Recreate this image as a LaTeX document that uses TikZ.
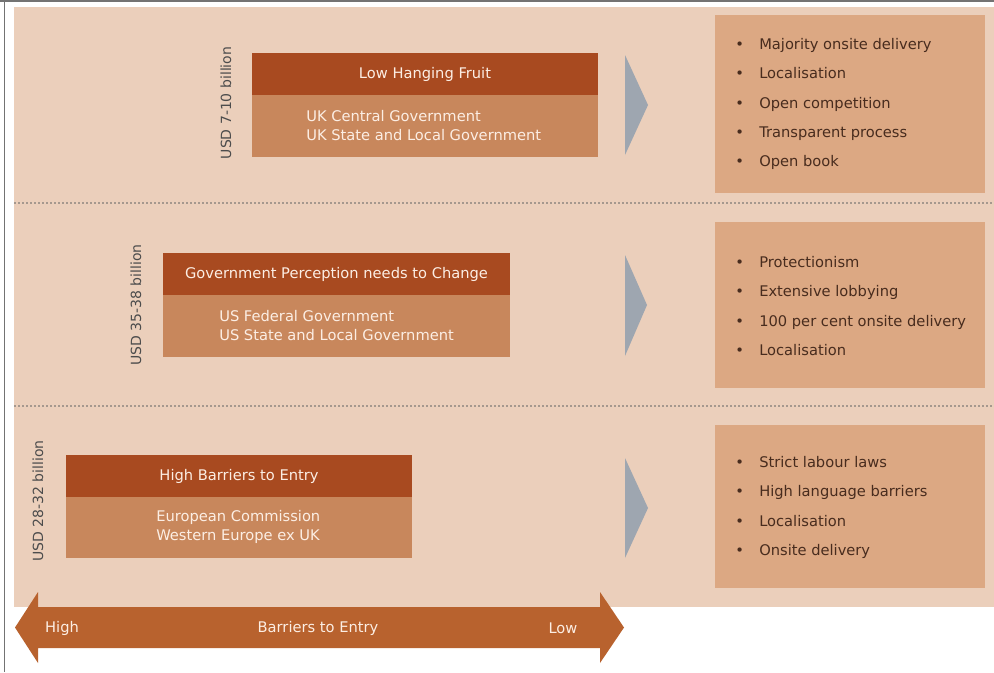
\documentclass[tikz,border=0pt]{standalone}
\usepackage{fontspec}
\setmainfont{DejaVu Sans}
\definecolor{bgpeach}{RGB}{235,207,187}
\definecolor{titlebrown}{RGB}{168,74,32}
\definecolor{bodybrown}{RGB}{200,135,92}
\definecolor{listbrown}{RGB}{220,168,131}
\definecolor{pointgray}{RGB}{158,166,176}
\definecolor{arrowbrown}{RGB}{184,98,46}
\definecolor{lighttext}{RGB}{252,238,228}
\definecolor{darktext}{RGB}{72,44,30}
\definecolor{dotgray}{RGB}{165,152,142}
\tikzset{
  boxtext/.style={inner sep=0.75pt, text=lighttext, font=\fontsize{11}{14.25}\selectfont},
  listtext/.style={inner sep=0pt, anchor=west, align=left, text=darktext, font=\fontsize{11}{22}\selectfont},
  usdtext/.style={inner sep=0.75pt, rotate=90, text=black!70, font=\fontsize{10.5}{12}\selectfont}
}
\newcommand{\bul}{\makebox[18pt][l]{\textbullet}}

\begin{document}
\begin{tikzpicture}[x=0.75pt,y=0.75pt,yscale=-1,xscale=1]
\useasboundingbox (0,0) rectangle (994,672);

%Frame
\draw [color=black!55, line width=1.5] (0,1) -- (994,1) ;
\draw [color=black!55, line width=1] (4.5,0) -- (4.5,672) ;
%Shape: Background
\fill [bgpeach] (14,7) rectangle (994,607) ;
%Dotted separators
\draw [color=dotgray, line width=1, dash pattern=on 1.5 off 1.5] (14,203) -- (994,203) ;
\draw [color=dotgray, line width=1, dash pattern=on 1.5 off 1.5] (14,406) -- (994,406) ;

%Shape: Band 1 boxes
\fill [titlebrown] (252,53) rectangle (598,95) ;
\fill [bodybrown] (252,95) rectangle (598,157) ;
\fill [pointgray] (625,55) -- (648,105) -- (625,155) -- cycle ;
\fill [listbrown] (715,15) rectangle (985,193) ;
%Shape: Band 2 boxes
\fill [titlebrown] (163,253) rectangle (510,295) ;
\fill [bodybrown] (163,295) rectangle (510,357) ;
\fill [pointgray] (625,255) -- (647,305) -- (625,356) -- cycle ;
\fill [listbrown] (715,222) rectangle (985,388) ;
%Shape: Band 3 boxes
\fill [titlebrown] (66,455) rectangle (412,497) ;
\fill [bodybrown] (66,497) rectangle (412,558) ;
\fill [pointgray] (625,458) -- (648,508) -- (625,558) -- cycle ;
\fill [listbrown] (715,425) rectangle (985,588) ;

%Shape: Double arrow
\fill [arrowbrown] (15,627.5) -- (38,592) -- (38,607) -- (600,607) -- (600,592) -- (624,627.5) -- (600,663) -- (600,648) -- (38,648) -- (38,663) -- cycle ;

% Text Node
\node [usdtext] (usd1) at (226,103) {USD 7-10 billion};
\node [usdtext] (usd2) at (136,305) {USD 35-38 billion};
\node [usdtext] (usd3) at (38,501) {USD 28-32 billion};
% Text Node
\node [boxtext] (fruit) at (425,74) {Low Hanging Fruit};
\node [boxtext, anchor=west, align=left] (ukgov) at (305,126) {UK Central Government\\UK State and Local Government};
% Text Node
\node [boxtext] (change) at (336.5,274) {Government Perception needs to Change};
\node [boxtext, anchor=west, align=left] (usgov) at (218,326) {US Federal Government\\US State and Local Government};
% Text Node
\node [boxtext] (barriers) at (239,476) {High Barriers to Entry};
\node [boxtext, anchor=west, align=left] (eugov) at (155,527) {European Commission\\Western Europe ex UK};
% Text Node
\node [listtext] (list1) at (735,104) {\bul Majority onsite delivery\\\bul Localisation\\\bul Open competition\\\bul Transparent process\\\bul Open book};
\node [listtext] (list2) at (735,306) {\bul Protectionism\\\bul Extensive lobbying\\\bul 100 per cent onsite delivery\\\bul Localisation};
\node [listtext] (list3) at (735,507.5) {\bul Strict labour laws\\\bul High language barriers\\\bul Localisation\\\bul Onsite delivery};
% Text Node
\node [boxtext] (high) at (62,628) {High};
\node [boxtext] (entry) at (318,628) {Barriers to Entry};
\node [boxtext] (low) at (563,628) {Low};

\end{tikzpicture}
\end{document}
